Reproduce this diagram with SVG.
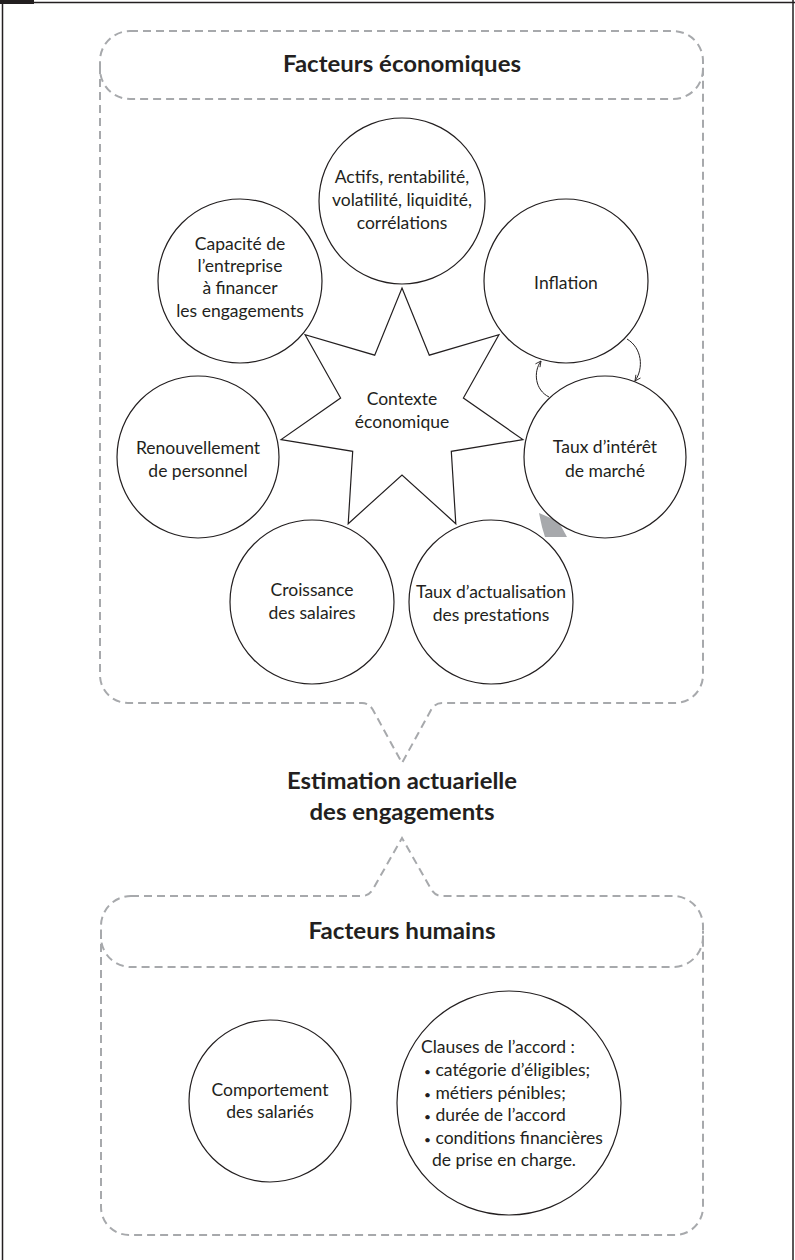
<svg xmlns="http://www.w3.org/2000/svg" width="795" height="1260" viewBox="0 0 795 1260">
<style>
.dash{fill:none;stroke:#a7a9ac;stroke-width:2;stroke-dasharray:8 5}
.node{fill:#fff;stroke:#231f20;stroke-width:1.2}
.t{font-family:Lato,"Liberation Sans",sans-serif;font-size:17.5px;fill:#231f20;text-anchor:middle}
.b{font-family:Lato,"Liberation Sans",sans-serif;font-weight:bold;font-size:22px;fill:#231f20;text-anchor:middle}
.l{text-anchor:start}
.bu{font-size:12px}
.arr{fill:none;stroke:#231f20;stroke-width:1}
</style>
<defs>
<marker id="ah" viewBox="0 0 10 10" refX="9" refY="5" markerWidth="7" markerHeight="7" orient="auto" markerUnits="userSpaceOnUse">
<path d="M1,1 L9,5 L1,9" fill="none" stroke="#231f20" stroke-width="1.2"/>
</marker>
</defs>
<rect width="795" height="1260" fill="#fff"/>
<g id="page-border">
<rect x="0" y="0" width="34" height="4" fill="#231f20"/>
<line x1="0" y1="2.5" x2="795" y2="2.5" stroke="#231f20" stroke-width="1.5"/>
<line x1="2.5" y1="0" x2="2.5" y2="1260" stroke="#231f20" stroke-width="1.5"/>
<line x1="793" y1="0" x2="793" y2="1260" stroke="#231f20" stroke-width="1.5"/>
</g>
<g id="frame-economiques">
<path class="dash" d="M130,31 H673 A30,30 0 0 1 703,61 V69 A30,30 0 0 1 673,99 H130 A30,30 0 0 1 100,69 V61 A30,30 0 0 1 130,31 Z"/>
<path class="dash" d="M100,66 V675 A28,28 0 0 0 128,703 H362 Q369,703 373,710 L402,763 L431,710 Q435,703 442,703 H675 A28,28 0 0 0 703,675 V66"/>
<text class="b" x="402" y="72" textLength="238" lengthAdjust="spacingAndGlyphs">Facteurs économiques</text>
</g>
<g id="frame-humains">
<path class="dash" d="M131,896 H362 Q369,896 373,889 L402,838 L431,889 Q435,896 442,896 H673 A30,30 0 0 1 703,926 V937 A30,30 0 0 1 673,967 H131 A30,30 0 0 1 101,937 V926 A30,30 0 0 1 131,896 Z"/>
<path class="dash" d="M101,931 V1207 A28,28 0 0 0 129,1235 H675 A28,28 0 0 0 703,1207 V931"/>
<text class="b" x="402" y="939" textLength="187" lengthAdjust="spacingAndGlyphs">Facteurs humains</text>
</g>
<g id="estimation">
<text class="b" x="402" y="789" textLength="230" lengthAdjust="spacingAndGlyphs">Estimation actuarielle</text>
<text class="b" x="402" y="820" textLength="185" lengthAdjust="spacingAndGlyphs">des engagements</text>
</g>
<g id="grey-arrow">
<polygon points="539,513 553,519 561,526 567,537 545,537 542,527" fill="#a7a9ac"/>
</g>
<g id="contexte">
<polygon class="node" points="402,288 429.3,355.2 498.9,334.7 463.4,398 522.9,439.6 451.3,451.3 455.8,523.7 402,475 348.2,523.7 352.7,451.3 281.1,439.6 340.6,398 305.1,334.7 374.7,355.2"/>
<text class="t" x="402" y="405">Contexte</text>
<text class="t" x="402" y="428">économique</text>
</g>
<g id="actifs">
<circle class="node" cx="402" cy="201" r="83"/>
<text class="t" x="402" y="183">Actifs, rentabilité,</text>
<text class="t" x="402" y="206">volatilité, liquidité,</text>
<text class="t" x="402" y="229">corrélations</text>
</g>
<g id="capacite">
<circle class="node" cx="240" cy="281" r="82"/>
<text class="t" x="240" y="250">Capacité de</text>
<text class="t" x="240" y="272">l’entreprise</text>
<text class="t" x="240" y="294">à financer</text>
<text class="t" x="240" y="317">les engagements</text>
</g>
<g id="inflation">
<circle class="node" cx="566" cy="281" r="82"/>
<text class="t" x="566" y="289">Inflation</text>
</g>
<g id="renouvellement">
<circle class="node" cx="198" cy="457" r="81"/>
<text class="t" x="198" y="454">Renouvellement</text>
<text class="t" x="198" y="477">de personnel</text>
</g>
<g id="taux-interet">
<circle class="node" cx="605" cy="457" r="81"/>
<text class="t" x="605" y="453">Taux d’intérêt</text>
<text class="t" x="605" y="477">de marché</text>
</g>
<g id="croissance">
<circle class="node" cx="312" cy="602" r="82"/>
<text class="t" x="312" y="596">Croissance</text>
<text class="t" x="312" y="619">des salaires</text>
</g>
<g id="taux-actualisation">
<circle class="node" cx="491" cy="602" r="82"/>
<text class="t" x="491" y="598">Taux d’actualisation</text>
<text class="t" x="491" y="621">des prestations</text>
</g>
<g id="connectors">
<path class="arr" d="M627,339 C642,348 644,368 635,381" marker-end="url(#ah)"/>
<path class="arr" d="M549,397 C535,390 533,372 541,361" marker-end="url(#ah)"/>
</g>
<g id="comportement">
<circle class="node" cx="270" cy="1101" r="81"/>
<text class="t" x="270" y="1096">Comportement</text>
<text class="t" x="270" y="1118">des salariés</text>
</g>
<g id="clauses">
<circle class="node" cx="509" cy="1103" r="112" stroke-width="1.8"/>
<text class="t l" x="421" y="1053">Clauses de l’accord :</text>
<text class="t l" x="424" y="1076"><tspan class="bu">•</tspan> catégorie d’éligibles;</text>
<text class="t l" x="424" y="1099"><tspan class="bu">•</tspan> métiers pénibles;</text>
<text class="t l" x="424" y="1121"><tspan class="bu">•</tspan> durée de l’accord</text>
<text class="t l" x="424" y="1144"><tspan class="bu">•</tspan> conditions financières</text>
<text class="t l" x="432" y="1166">de prise en charge.</text>
</g>
</svg>
